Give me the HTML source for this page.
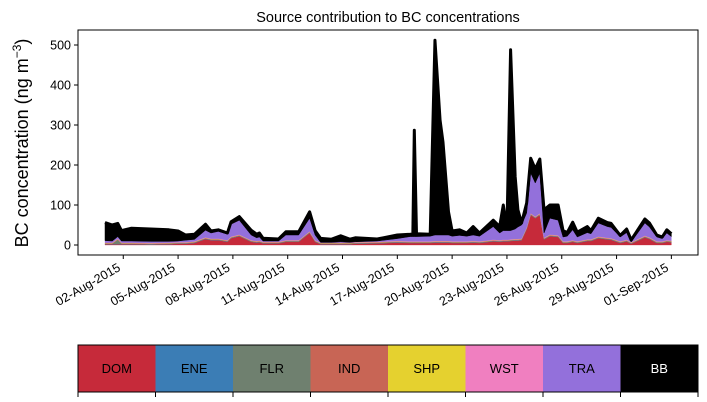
<!DOCTYPE html>
<html><head><meta charset="utf-8"><style>
html,body{margin:0;padding:0;background:#fff;}
svg{display:block;font-family:"Liberation Sans","DejaVu Sans",sans-serif;}
</style></head><body>
<svg id="chart" width="707" height="402" viewBox="0 0 707 402">
<text x="388" y="22" text-anchor="middle" font-size="14.5">Source contribution to BC concentrations</text>
<text transform="translate(28,143) rotate(-90)" text-anchor="middle" font-size="18">BC concentration (ng m<tspan dy="-7" font-size="12">−3</tspan><tspan dy="7">)</tspan></text>
<g id="areas"></g>
<g id="axes"></g>
<g id="cbar"></g>
</svg>
<script>
const days = [0,0.4,0.7,0.9,1.45,2.5,3.5,4.0,4.4,4.9,5.5,5.8,6.2,6.7,6.9,7.35,8.0,8.3,8.45,8.65,9.5,9.9,10.6,11.2,11.5,11.8,12.4,12.9,13.4,13.7,14.9,16.0,16.7,16.85,16.93,17.05,17.8,18.06,18.34,18.5,18.8,19.0,19.4,19.8,20.15,20.5,21.25,21.6,21.8,22.0,22.2,22.45,22.6,22.8,23.08,23.3,23.55,23.8,24.03,24.35,24.8,25.07,25.3,25.6,25.85,26.4,26.6,27.0,27.5,27.7,28.2,28.55,28.8,29.55,29.8,30.2,30.5,30.75,31.0];
const dom = [2,2,2,2,2,1,2,3,3,5,15,12,12,8,17,22,8,6,7,4,4,8,8,30,8,2,2,2,2,3,4,6,5,5,5,5,5,6,6,6,6,5,5,5,6,5,9,8,9,9,10,11,11,12,40,75,67,75,14,22,20,5,5,8,5,10,10,17,14,13,5,9,3,19,15,5,5,8,7];
const tra = [5,4,5,4,4,4,3,3,5,5,18,14,18,15,31,36,13,8,9,2,2,13,13,33,13,0.5,0.5,2,0.5,1,2,6,12,12,12,12,13,15,15,15,15,13,15,13,15,13,33,18,23,23,22,25,30,34,36,101,84,101,12,41,38,11,13,26,11,17,14,34,28,27,11,18,0.5,32,26,11,7,18,10];
const bb = [45,40,33,26,32,31,29,25,13,13,15,5,4,3,6,9,12,9,10,7,5,8,8,16,11,10,8,15,8,10,5,9,6,7,266,7,5,487,287,232,58,13,14,8,21,8,16,16,64,4,452,131,43,5,25,37,35,35,58,33,38,16,9,19,12,15,8,12,10,10,4,9,5,10,10,5,4,8,7];
const flrSpike = [0,0,10,0,0,0,0,0,0,0,0,0,0,0,0,0,0,0,0,0,0,0,0,0,0,0,0,0,0,0,0,0,0,0,0,0,0,0,0,0,0,0,0,0,0,0,0,0,0,0,0,0,0,0,0,0,0,0,0,0,0,0,0,0,0,0,0,0,0,0,0,0,0,0,0,0,0,0,0];
const eneBase = 0.5, flrBase = 1, indBase = 1, shpBase = 0.5, wstBase = 1;
const yTicks = [0,100,200,300,400,500];
const xTickDays = [1,4,7,10,13,16,19,22,25,28,31];
const xTickLabels = ["02-Aug-2015","05-Aug-2015","08-Aug-2015","11-Aug-2015","14-Aug-2015","17-Aug-2015","20-Aug-2015","23-Aug-2015","26-Aug-2015","29-Aug-2015","01-Sep-2015"];
const sources = ["DOM","ENE","FLR","IND","SHP","WST","TRA","BB"];
const colors = ["#c62a3a","#3b7db5","#6f806f","#c86555","#e5d12f","#f07fc0","#9370db","#000000"];

const NS="http://www.w3.org/2000/svg";
const X0=78,X1=698,Y0=30,Y1=255;
const xs=d=>105+d*18.27;
const ys=v=>245-0.4*v;
function mk(tag,attrs,parent){const e=document.createElementNS(NS,tag);for(const k in attrs)e.setAttribute(k,attrs[k]);parent.appendChild(e);return e;}

const n=days.length;
const layers=[dom,days.map(()=>eneBase),days.map((d,i)=>flrBase+flrSpike[i]),days.map(()=>indBase),days.map(()=>shpBase),days.map(()=>wstBase),tra,bb];
const areas=document.getElementById('areas');
let base=days.map(()=>0);
layers.forEach((arr,li)=>{
  const top=base.map((b,i)=>b+arr[i]);
  let d='M'+days.map((t,i)=>xs(t).toFixed(2)+','+ys(top[i]).toFixed(2)).join('L');
  for(let i=n-1;i>=0;i--)d+='L'+xs(days[i]).toFixed(2)+','+ys(base[i]).toFixed(2);
  d+='Z';
  const p=mk('path',{d:d,fill:colors[li],stroke:colors[li],'stroke-width':li===7?0.5:0.3},areas);
  
  
  base=top;
});
const tl=mk('path',{d:'M'+days.map((t,i)=>xs(t).toFixed(2)+','+ys(base[i]).toFixed(2)).join('L'),fill:'none',stroke:'#000','stroke-width':3,'stroke-linejoin':'round'},areas);



const axes=document.getElementById('axes');
const fr=mk('rect',{x:X0,y:Y0,width:X1-X0,height:Y1-Y0,fill:'none',stroke:'#000','stroke-width':1},axes);


yTicks.forEach(v=>{
  mk('line',{x1:X0-4,x2:X0,y1:ys(v),y2:ys(v),stroke:'#000'},axes);
  const t=mk('text',{x:X0-7,y:ys(v)+4.5,'text-anchor':'end','font-size':12.5},axes);
  t.textContent=v;
  
  
});
xTickDays.forEach((d,i)=>{
  const x=xs(d);
  mk('line',{x1:x,x2:x,y1:Y1,y2:Y1+4,stroke:'#000'},axes);
  const t=mk('text',{transform:'translate('+(x-2)+','+(Y1+15)+') rotate(-30)','text-anchor':'end','font-size':12.5},axes);
  t.textContent=xTickLabels[i];
  
  
});

const cb=document.getElementById('cbar');
const cw=(X1-X0)/sources.length;
sources.forEach((s,i)=>{
  const r=mk('rect',{x:X0+i*cw,y:345,width:cw,height:47,fill:colors[i]},cb);
  
  
  const t=mk('text',{x:X0+(i+0.5)*cw,y:373,'text-anchor':'middle','font-size':13,fill:s==='BB'?'#fff':'#000'},cb);
  t.textContent=s;
  
  
});
mk('rect',{x:X0,y:345,width:X1-X0,height:47,fill:'none',stroke:'#000','stroke-width':1},cb);
for(let i=0;i<=sources.length;i++){mk('line',{x1:X0+i*cw,x2:X0+i*cw,y1:392,y2:397,stroke:'#000'},cb);}
</script>
</body></html>
